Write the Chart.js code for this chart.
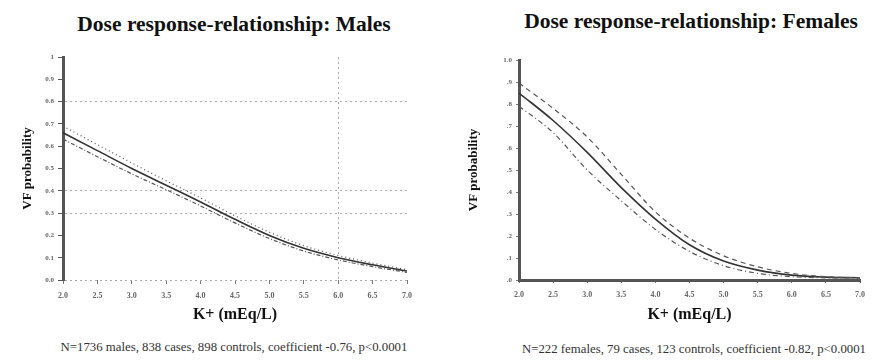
<!DOCTYPE html>
<html>
<head>
<meta charset="utf-8">
<script src="https://cdn.jsdelivr.net/npm/chart.js@4"></script>
<style>
    body { margin: 0; background: #fff; }
    #wrap { position: relative; width: 872px; height: 360px; overflow: hidden; }
    .panel { position: absolute; top: 0; width: 436px; height: 330px; }
    .title { position: absolute; font-family: "Liberation Serif", serif; font-weight: bold; font-size: 21.5px; color: #111; white-space: nowrap; transform: translateX(-50%); }
    .note { position: absolute; font-family: "Liberation Serif", serif; font-size: 12.8px; color: #333; white-space: nowrap; transform: translateX(-50%); }
</style>
</head>
<body>
<div id="wrap">
    <div class="title" style="left:234px; top:12px;">Dose response-relationship: Males</div>
    <div class="title" style="left:691px; top:9px;">Dose response-relationship: Females</div>
    <div class="panel" style="left:0;"><canvas id="maleChart" width="436" height="330"></canvas></div>
    <div class="panel" style="left:436px;"><canvas id="femaleChart" width="436" height="330"></canvas></div>
    <div class="note" style="left:234px; top:340px;">N=1736 males, 838 cases, 898 controls, coefficient -0.76, p&lt;0.0001</div>
    <div class="note" style="left:694px; top:342px;">N=222 females, 79 cases, 123 controls, coefficient -0.82, p&lt;0.0001</div>
</div>
<script>
// K+ degerleri (x ekseni)
var kValues = [2.0, 2.5, 3.0, 3.5, 4.0, 4.5, 5.0, 5.5, 6.0, 6.5, 7.0];

// Erkekler: egri ve guven araligi
var maleFit   = [0.660, 0.580, 0.500, 0.425, 0.350, 0.272, 0.200, 0.142, 0.100, 0.068, 0.040];
var maleUpper = [0.690, 0.607, 0.525, 0.445, 0.368, 0.288, 0.214, 0.154, 0.110, 0.076, 0.046];
var maleLower = [0.632, 0.553, 0.476, 0.405, 0.332, 0.256, 0.186, 0.130, 0.090, 0.060, 0.034];

// Kadinlar: egri ve guven araligi
var femaleFit   = [0.850, 0.725, 0.580, 0.420, 0.277, 0.160, 0.086, 0.045, 0.022, 0.013, 0.010];
var femaleUpper = [0.895, 0.780, 0.650, 0.480, 0.310, 0.190, 0.110, 0.060, 0.030, 0.015, 0.010];
var femaleLower = [0.790, 0.670, 0.500, 0.360, 0.230, 0.130, 0.065, 0.030, 0.015, 0.010, 0.010];

// Eksen etiketleri
var yTicks = [0, 0.1, 0.2, 0.3, 0.4, 0.5, 0.6, 0.7, 0.8, 0.9, 1.0];
var maleGridY = [0, 0.3, 0.4, 0.8];
var maleGridX = [6.0];
var xTitle = 'K+ (mEq/L)';
var yTitle = 'VF probability';

function toPoints(values) {
    return kValues.map(function (k, i) { return { x: k, y: values[i] }; });
}

function curve(values, dash, width, color) {
    return {
        data: toPoints(values),
        borderColor: color,
        borderWidth: width,
        borderDash: dash,
        pointRadius: 0,
        cubicInterpolationMode: 'monotone',
        fill: false
    };
}

var serif = 'Liberation Serif';

function baseOptions(cfg) {
    return {
        responsive: false,
        animation: false,
        layout: { padding: cfg.padding },
        plugins: { legend: { display: false }, tooltip: { enabled: false } },
        scales: {
            x: {
                type: 'linear',
                min: 2, max: 7,
                afterBuildTicks: function (scale) {
                    scale.ticks = kValues.map(function (v) { return { value: v }; });
                },
                afterFit: function (scale) { scale.height = cfg.xHeight; },
                ticks: {
                    padding: 7,
                    font: { family: serif, size: 8, weight: 'bold' },
                    color: '#666',
                    maxRotation: 0,
                    callback: function (v) { return Number(v).toFixed(1); }
                },
                grid: cfg.xGrid,
                border: cfg.xBorder,
                title: {
                    display: true, text: xTitle, color: '#111',
                    font: { family: serif, size: 16, weight: 'bold' },
                    padding: { top: 2, bottom: 6 }
                }
            },
            y: {
                min: 0, max: 1,
                afterBuildTicks: function (scale) {
                    scale.ticks = yTicks.map(function (v) { return { value: v }; });
                },
                afterFit: function (scale) { scale.width = cfg.yWidth; },
                ticks: {
                    padding: 4,
                    font: { family: serif, size: 7, weight: 'bold' },
                    color: '#666',
                    callback: cfg.yLabel
                },
                grid: cfg.yGrid,
                border: cfg.yBorder,
                title: {
                    display: true, text: yTitle, color: '#111',
                    font: { family: serif, size: 13, weight: 'bold' },
                    padding: 0
                }
            }
        }
    };
}

// Erkek grafigi
new Chart(document.getElementById('maleChart').getContext('2d'), {
    type: 'line',
    data: {
        datasets: [
            curve(maleUpper, [1, 3], 1.2, '#555'),
            curve(maleLower, [4, 2, 1, 2], 1.2, '#555'),
            curve(maleFit, [], 1.6, '#333')
        ]
    },
    options: baseOptions({
        padding: { left: 20, right: 29, top: 57, bottom: 0 },
        yWidth: 43,
        xHeight: 50,
        yLabel: function (v) { return v === 1 ? '1' : Number(v).toFixed(1); },
        xGrid: {
            color: function (ctx) {
                return ctx.tick && maleGridX.indexOf(ctx.tick.value) >= 0 ? '#aaa' : 'rgba(0,0,0,0)';
            },
            tickColor: '#777', tickLength: 4, drawTicks: true
        },
        xBorder: { display: false, dash: [2, 3] },
        yGrid: {
            color: function (ctx) {
                return ctx.tick && maleGridY.indexOf(ctx.tick.value) >= 0 ? '#aaa' : 'rgba(0,0,0,0)';
            },
            tickColor: '#555', tickLength: 5, drawTicks: true
        },
        yBorder: { display: true, color: '#555', width: 3, dash: [2, 3] }
    })
});

// Kadin grafigi
new Chart(document.getElementById('femaleChart').getContext('2d'), {
    type: 'line',
    data: {
        datasets: [
            curve(femaleUpper, [5, 4], 1.2, '#555'),
            curve(femaleLower, [5, 3, 1, 3], 1.2, '#555'),
            curve(femaleFit, [], 1.6, '#333')
        ]
    },
    options: baseOptions({
        padding: { left: 30, right: 6, top: 60, bottom: 0 },
        yWidth: 53,
        xHeight: 50,
        yLabel: function (v) { return Number(v).toFixed(1).replace(/^0/, ''); },
        xGrid: { color: 'rgba(0,0,0,0)', tickColor: '#777', tickLength: 3, drawTicks: true },
        xBorder: { display: true, color: '#555', width: 3 },
        yGrid: { color: 'rgba(0,0,0,0)', tickColor: '#777', tickLength: 3, drawTicks: true },
        yBorder: { display: true, color: '#555', width: 3 }
    })
});
</script>
</body>
</html>
